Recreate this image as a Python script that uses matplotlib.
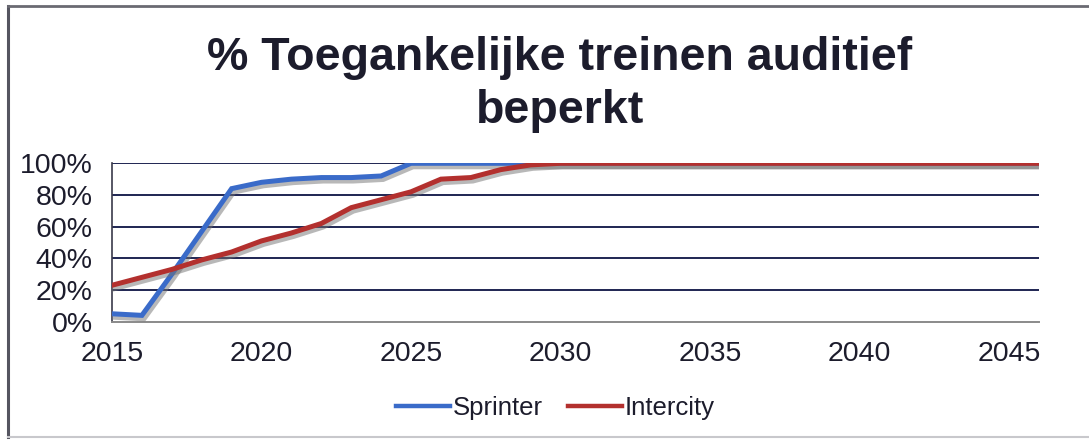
import matplotlib
matplotlib.use("Agg")
import matplotlib.pyplot as plt
import matplotlib.patheffects as pe
from matplotlib.lines import Line2D

# data (percent accessible trains)
years = list(range(2015, 2047))
sprinter = [5, 4, 30, 57, 84, 88, 90, 91, 91, 92, 100, 100, 100, 100, 100, 100,
            100, 100, 100, 100, 100, 100, 100, 100, 100, 100, 100, 100, 100, 100, 100, 100]
intercity = [23, 28, 33, 39, 44, 51, 56, 62, 72, 77, 82, 90, 91, 96, 99, 100,
             100, 100, 100, 100, 100, 100, 100, 100, 100, 100, 100, 100, 100, 100, 100, 100]
tick_years = [2015, 2020, 2025, 2030, 2035, 2040, 2045]
y_ticks = [0, 20, 40, 60, 80, 100]
series_names = ["Sprinter", "Intercity"]

BLUE = "#3a6bc9"
RED = "#b3302e"
TEXT = "#1c1c2c"

plt.rcParams["font.family"] = ["Liberation Sans", "DejaVu Sans"]

fig = plt.figure(figsize=(10.89, 4.40), dpi=100)
ax = fig.add_axes([112 / 1089, 1 - 321.7 / 440, (1039 - 112) / 1089, (321.7 - 163.3) / 440])

shadow = [pe.SimpleLineShadow(offset=(1.5, -2.5), shadow_color="0.45", alpha=0.5), pe.Normal()]
ax.plot(years, sprinter, color=BLUE, lw=3.6, solid_joinstyle="miter", path_effects=shadow, zorder=3)
ax.plot(years, intercity, color=RED, lw=3.6, solid_joinstyle="miter", path_effects=shadow, zorder=4)

ax.set_xlim(2015, 2046)
ax.set_ylim(0, 100)
ax.set_xticks(tick_years)
ax.set_xticklabels([str(y) for y in tick_years])
ax.set_yticks(y_ticks)
ax.set_yticklabels([f"{v}%" for v in y_ticks])
ax.tick_params(length=0, labelsize=20.5, labelcolor=TEXT)
ax.tick_params(axis="y", pad=14)
ax.tick_params(axis="x", pad=14)

for v in y_ticks[1:]:
    ax.axhline(v, color="#1e2552", lw=1.4, zorder=1)
for s in ["top", "right"]:
    ax.spines[s].set_visible(False)
ax.spines["left"].set_color("#3a3a4a")
ax.spines["left"].set_linewidth(1.2)
ax.spines["bottom"].set_color("#8a8a8a")
ax.spines["bottom"].set_linewidth(1.4)

fig.text(0.514, 0.808, "% Toegankelijke treinen auditief\nbeperkt", ha="center", va="center",
         fontsize=33.5, fontweight="bold", color=TEXT, linespacing=1.25)

handles = [Line2D([], [], color=BLUE, lw=3.2), Line2D([], [], color=RED, lw=3.2)]
fig.legend(handles, series_names, loc="center", bbox_to_anchor=(0.51, 0.073), ncol=2,
           frameon=False, fontsize=18.5, handlelength=2.1, handletextpad=0.1, columnspacing=1.0,
           labelcolor=TEXT)

# chart frame (left/top darker, bottom faint)
fig.add_artist(Line2D([8 / 1089, 8 / 1089], [1 - 437 / 440, 1 - 6 / 440], color="#555560", lw=2.2))
fig.add_artist(Line2D([8 / 1089, 1089 / 1089], [1 - 6 / 440, 1 - 6 / 440], color="#6a6a72", lw=2))
fig.add_artist(Line2D([8 / 1089, 1089 / 1089], [1 - 437 / 440, 1 - 437 / 440], color="#c8c8cc", lw=1.5))

fig.savefig("out.png", dpi=100)
